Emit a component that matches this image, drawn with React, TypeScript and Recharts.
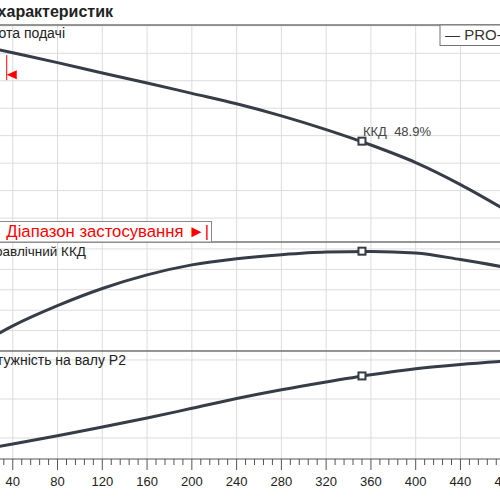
import React from "react";
import {
  ComposedChart,
  Line,
  XAxis,
  YAxis,
  ReferenceLine,
  ReferenceDot,
} from "recharts";

// flow rate, read every 40 units along the x axis
const FLOW = [0, 40, 80, 120, 160, 200, 240, 280, 320, 360, 400, 440, 480];
const HEAD = [36.9, 35.1, 33.3, 31.4, 29.6, 27.7, 25.8, 23.6, 21.1, 18.3, 15.1, 11.1, 6.5];
const EFFICIENCY = [0, 12.3, 22.2, 30.6, 37.3, 42.2, 45.2, 47.2, 48.5, 48.8, 48.0, 44.8, 41.0];
const POWER = [1.27, 1.69, 2.11, 2.56, 3.02, 3.52, 4.02, 4.47, 4.87, 5.24, 5.55, 5.77, 5.94];

// best efficiency point
const BEP_FLOW = 352;
const BEP_HEAD = 19.0;
const BEP_EFF = 48.9;
const BEP_POWER = 5.18;

// start of the application range
const RANGE_START_FLOW = 34.6;
const RANGE_START_HEAD = 35.3;

const X_MAJOR = [0, 40, 80, 120, 160, 200, 240, 280, 320, 360, 400, 440, 480, 520];
const X_MINOR = Array.from({ length: 66 }, (_, i) => i * 8);
const HEAD_GRID = [5, 10, 15, 20, 25, 30, 35, 40];
const EFF_GRID = [0, 10, 20, 30, 40, 50];
const POWER_GRID = [2, 4, 6];

const data = FLOW.map((q, i) => ({
  q,
  head: HEAD[i],
  eff: EFFICIENCY[i],
  power: POWER[i],
}));

const FONT = '"Liberation Sans", Arial, sans-serif';
const CURVE = "#363d47";
const GRID = "#dcdcdc";
const FRAME = "#737373";
const CHART_LEFT = -32;
const CHART_WIDTH = 582;
const MARGIN = { top: 0, right: 0, bottom: 0, left: 0 };

const BepSquare = ({ cx, cy }: any) => (
  <rect x={cx - 3.5} y={cy - 3.5} width={7} height={7} fill="#fff" stroke={CURVE} strokeWidth={2} />
);

const BepHeadMarker = ({ cx, cy }: any) => (
  <g>
    <rect x={cx - 3.5} y={cy - 3.5} width={7} height={7} fill="#fff" stroke={CURVE} strokeWidth={2} />
    <text x={cx + 1} y={cy - 5} fontSize={13} fill="#444" fontFamily={FONT}>
      {"ККД\u00a0\u00a0" + BEP_EFF + "%"}
    </text>
  </g>
);

const RangeStart = ({ cx, cy }: any) => (
  <g>
    <line x1={cx} x2={cx} y1={cy + 3.5} y2={cy + 28.5} stroke="#ff0000" strokeWidth={1} />
    <polygon
      points={`${cx},${cy + 23} ${cx + 10},${cy + 18.5} ${cx + 10},${cy + 27.5}`}
      fill="#ff0000"
    />
  </g>
);

const AxisTick = ({ x, y, payload }: any) => {
  const major = payload.value % 40 === 0;
  return (
    <g>
      <line x1={x} x2={x} y1={y} y2={y + (major ? 11 : 6)} stroke="#555" />
      {major && (
        <text x={x} y={y + 27} textAnchor="middle" fontSize={13} fill="#222" fontFamily={FONT}>
          {payload.value}
        </text>
      )}
    </g>
  );
};

function gridLines(yTicks: number[]) {
  return [
    ...X_MAJOR.map((t) => (
      <ReferenceLine key={"x" + t} x={t} stroke={GRID} strokeWidth={1} />
    )),
    ...yTicks.map((t) => (
      <ReferenceLine key={"y" + t} y={t} stroke={GRID} strokeWidth={1} />
    )),
  ];
}

export default function App() {
  return (
    <div
      style={{
        position: "absolute",
        top: 0,
        left: 0,
        width: 500,
        height: 500,
        overflow: "hidden",
        background: "#fff",
        fontFamily: FONT,
      }}
    >
      {/* head */}
      <div style={{ position: "absolute", top: 25, left: CHART_LEFT }}>
        <ComposedChart width={CHART_WIDTH} height={217} data={data} margin={MARGIN}>
          <XAxis hide type="number" dataKey="q" domain={[0, 520]} />
          <YAxis hide type="number" domain={[0.64, 40.15]} />
          {gridLines(HEAD_GRID)}
          <Line
            type="monotone"
            dataKey="head"
            stroke={CURVE}
            strokeWidth={3}
            dot={false}
            activeDot={false}
            isAnimationActive={false}
          />
          <ReferenceDot x={BEP_FLOW} y={BEP_HEAD} shape={<BepHeadMarker />} />
          <ReferenceDot x={RANGE_START_FLOW} y={RANGE_START_HEAD} shape={<RangeStart />} />
        </ComposedChart>
      </div>

      {/* efficiency */}
      <div style={{ position: "absolute", top: 242, left: CHART_LEFT }}>
        <ComposedChart width={CHART_WIDTH} height={109} data={data} margin={MARGIN}>
          <XAxis hide type="number" dataKey="q" domain={[0, 520]} />
          <YAxis hide type="number" domain={[0, 53.4]} />
          {gridLines(EFF_GRID)}
          <Line
            type="monotone"
            dataKey="eff"
            stroke={CURVE}
            strokeWidth={3}
            dot={false}
            activeDot={false}
            isAnimationActive={false}
          />
          <ReferenceDot x={BEP_FLOW} y={BEP_EFF} shape={<BepSquare />} />
        </ComposedChart>
      </div>

      {/* shaft power */}
      <div style={{ position: "absolute", top: 351, left: CHART_LEFT }}>
        <ComposedChart width={CHART_WIDTH} height={148} data={data} margin={MARGIN}>
          <XAxis
            type="number"
            dataKey="q"
            domain={[0, 520]}
            ticks={X_MINOR}
            interval={0}
            tickLine={false}
            tickSize={0}
            tickMargin={0}
            height={40}
            axisLine={{ stroke: "#555", strokeWidth: 1 }}
            tick={<AxisTick />}
          />
          <YAxis hide type="number" domain={[0.92, 6.46]} />
          {gridLines(POWER_GRID)}
          <Line
            type="monotone"
            dataKey="power"
            stroke={CURVE}
            strokeWidth={3}
            dot={false}
            activeDot={false}
            isAnimationActive={false}
          />
          <ReferenceDot x={BEP_FLOW} y={BEP_POWER} shape={<BepSquare />} />
        </ComposedChart>
      </div>

      {/* frame, titles, legend */}
      <svg
        width={500}
        height={500}
        style={{ position: "absolute", top: 0, left: 0, pointerEvents: "none" }}
        fontFamily={FONT}
      >
        <text x={113} y={17} textAnchor="end" fontSize={16} fontWeight="bold" fill="#222">
          Графік характеристик
        </text>
        <line x1={0} x2={500} y1={25} y2={25} stroke={FRAME} strokeWidth={1.5} />
        <line x1={0} x2={500} y1={242} y2={242} stroke={FRAME} strokeWidth={1.5} />
        <line x1={0} x2={500} y1={351} y2={351} stroke={FRAME} strokeWidth={1.5} />

        <text x={65} y={38} textAnchor="end" fontSize={14} fill="#222">
          Висота подачі
        </text>
        <text x={86} y={256} textAnchor="end" fontSize={13.5} fill="#222">
          Гідравлічний ККД
        </text>
        <text x={126} y={365} textAnchor="end" fontSize={14} fill="#222">
          Потужність на валу P2
        </text>

        <rect x={440} y={25} width={100} height={20.5} fill="#fff" stroke={FRAME} strokeWidth={1} />
        <text x={445} y={39.5} fontSize={15} fill="#333">
          — PRO-T
        </text>

        <rect x={-150} y={221.5} width={361.5} height={20.5} fill="#fff" stroke="#888" strokeWidth={1} />
        <text x={209} y={237} textAnchor="end" fontSize={16.7} fill="#ff0000">
          |◄ Діапазон застосування ►|
        </text>
      </svg>
    </div>
  );
}
